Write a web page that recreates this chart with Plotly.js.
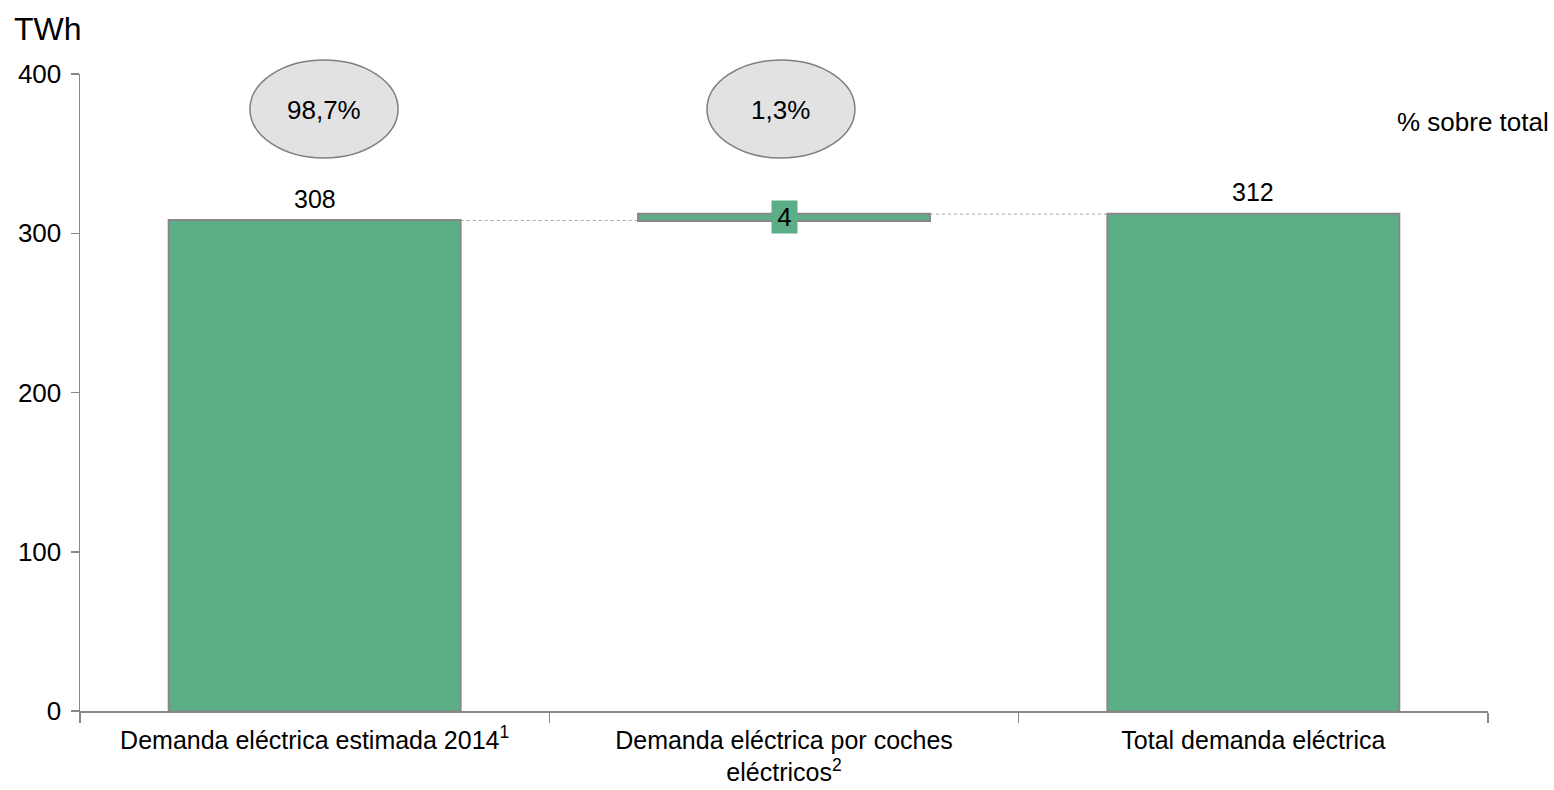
<!DOCTYPE html>
<html>
<head>
<meta charset="utf-8">
<script src="https://cdn.plot.ly/plotly-3.0.1.min.js"></script>
<style>html,body{margin:0;padding:0;background:#fff;}#chart{width:1554px;height:790px;}</style>
</head>
<body>
<div id="chart"></div>
<script>
// Data
var categories = [
  "Demanda eléctrica estimada 2014<sup>1</sup>",
  "Demanda eléctrica por coches<br>eléctricos<sup>2</sup>",
  "Total demanda eléctrica"
];
var measures = ["absolute", "relative", "total"];
var values = [308, 4, 312];
var valueLabels = ["308", "4", "312"];
var shareLabels = ["98,7%", "1,3%"];
var unitLabel = "TWh";
var shareTitle = "% sobre total";
var yTicks = [0, 100, 200, 300, 400];

var GREEN = "#5BAE85";
var GREY = "#878787";
var FONT = "Liberation Sans, Arial, sans-serif";
var FS = 26;

// waterfall y: absolute, relative, total (total computed by library)
var wfY = values.map(function (v, i) { return measures[i] === "total" ? 0 : v; });

var trace = {
  type: "waterfall",
  x: categories,
  y: wfY,
  measure: measures,
  width: 0.622,
  connector: { mode: "between", line: { color: "#A6A6A6", width: 1, dash: "dot" } },
  increasing: { marker: { color: GREEN, line: { color: GREY, width: 2 } } },
  decreasing: { marker: { color: GREEN, line: { color: GREY, width: 2 } } },
  totals: { marker: { color: GREEN, line: { color: GREY, width: 2 } } },
  textinfo: "none",
  hoverinfo: "skip",
  showlegend: false
};

// running tops for labels
var tops = [];
var run = 0;
values.forEach(function (v, i) {
  if (measures[i] === "absolute") { run = v; tops.push({ base: 0, top: v }); }
  else if (measures[i] === "relative") { tops.push({ base: run, top: run + v }); run += v; }
  else { tops.push({ base: 0, top: run }); }
});

var annotations = [];
tops.forEach(function (t, i) {
  if (measures[i] === "relative") {
    annotations.push({
      x: categories[i], y: (t.base + t.top) / 2, xref: "x", yref: "y",
      text: valueLabels[i], showarrow: false, bgcolor: GREEN,
      width: 25, height: 32, borderpad: 0,
      font: { family: FONT, size: FS, color: "#000" },
      xanchor: "center", yanchor: "middle"
    });
  } else {
    annotations.push({
      x: categories[i], y: t.top, xref: "x", yref: "y",
      text: valueLabels[i], showarrow: false,
      font: { family: FONT, size: FS - 1, color: "#000" },
      xanchor: "center", yanchor: "bottom", yshift: 6
    });
  }
});

// ellipses with share labels
var ellipsePos = [[0.1207, 0.2259], [0.4453, 0.5504]];
var shapes = [];
shareLabels.forEach(function (s, i) {
  var p = ellipsePos[i];
  shapes.push({
    type: "circle", xref: "paper", yref: "paper",
    x0: p[0], x1: p[1], y0: 0.868, y1: 1.022,
    fillcolor: "#E2E2E2", line: { color: "#7F7F7F", width: 1.5 }, layer: "above"
  });
  annotations.push({
    xref: "paper", yref: "paper", x: (p[0] + p[1]) / 2, y: 0.943,
    text: s, showarrow: false, xanchor: "center", yanchor: "middle",
    font: { family: FONT, size: FS, color: "#000" }
  });
});

annotations.push({
  xref: "paper", yref: "paper", x: 1.045, y: 0.924,
  text: shareTitle, showarrow: false, xanchor: "right", yanchor: "middle",
  font: { family: FONT, size: FS, color: "#000" }
});
annotations.push({
  xref: "paper", yref: "paper", x: -0.048, y: 1.07,
  text: unitLabel, showarrow: false, xanchor: "left", yanchor: "middle",
  font: { family: FONT, size: 32, color: "#000" }
});

var layout = {
  width: 1554, height: 790,
  margin: { l: 80, r: 66, t: 74, b: 79, pad: 0 },
  paper_bgcolor: "#fff", plot_bgcolor: "#fff",
  font: { family: FONT, size: FS, color: "#000" },
  showlegend: false,
  xaxis: {
    type: "category", range: [-0.5, 2.5], automargin: false,
    showline: true, linecolor: GREY, linewidth: 1.5,
    ticks: "outside", tickson: "boundaries", ticklen: 10, tickcolor: GREY, tickwidth: 1.5,
    ticklabelstandoff: 6,
    showgrid: false, zeroline: false, fixedrange: true,
    tickfont: { family: FONT, size: 25, color: "#000" }
  },
  yaxis: {
    range: [0, 400], automargin: false,
    tickvals: yTicks, ticktext: yTicks.map(String),
    showline: true, linecolor: GREY, linewidth: 1.5,
    ticks: "outside", ticklen: 8, tickcolor: GREY, tickwidth: 1.5,
    ticklabelstandoff: 4,
    showgrid: false, zeroline: false, fixedrange: true,
    tickfont: { family: FONT, size: FS, color: "#000" }
  },
  shapes: shapes,
  annotations: annotations
};

Plotly.newPlot("chart", [trace], layout, { displayModeBar: false, staticPlot: true });
</script>
</body>
</html>
